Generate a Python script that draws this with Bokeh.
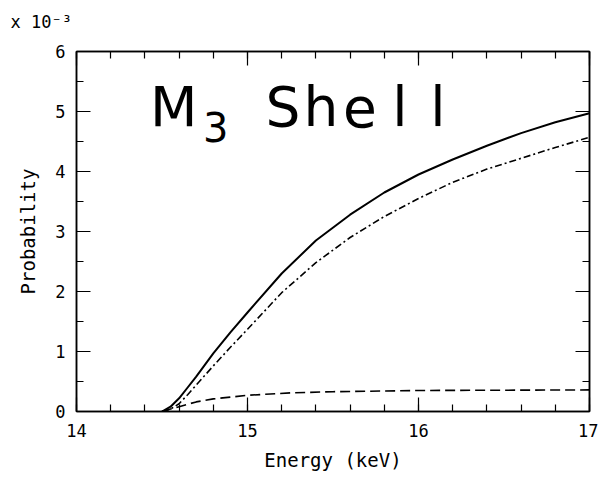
from bokeh.plotting import figure
from bokeh.models import (LinearAxis, Range1d, Label, SingleIntervalTicker, Title,
                          CustomLabelingPolicy)
from bokeh.embed import file_html
from bokeh.resources import INLINE

# ---- data (probability in units of 1e-3) ----
energy_total = [14.5, 14.55, 14.6, 14.65, 14.7, 14.8, 14.9, 15.0, 15.2, 15.4, 15.6, 15.8,
                16.0, 16.2, 16.4, 16.6, 16.8, 17.0]
prob_total = [0.0, 0.08, 0.22, 0.4, 0.58, 0.97, 1.32, 1.65, 2.3, 2.85, 3.28, 3.65,
              3.95, 4.2, 4.43, 4.64, 4.82, 4.97]

energy_dashdot = [14.5, 14.55, 14.6, 14.65, 14.7, 14.8, 14.9, 15.0, 15.2, 15.4, 15.6, 15.8,
                  16.0, 16.2, 16.4, 16.6, 16.8, 17.0]
prob_dashdot = [0.0, 0.04, 0.13, 0.28, 0.44, 0.76, 1.07, 1.37, 1.98, 2.48, 2.9, 3.25,
                3.55, 3.82, 4.04, 4.22, 4.4, 4.57]

energy_dashed = [14.5, 14.55, 14.6, 14.7, 14.8, 15.0, 15.25, 15.5, 16.0, 16.5, 17.0]
prob_dashed = [0.0, 0.04, 0.08, 0.16, 0.21, 0.27, 0.31, 0.33, 0.35, 0.355, 0.36]

x_ticks_interval = 1
y_ticks_interval = 1

FONT = "DejaVu Sans Mono"
TITLE_FONT = "DejaVu Sans"

p = figure(width=598, height=476, x_range=Range1d(14, 17), y_range=Range1d(0, 6),
           output_backend="svg", toolbar_location=None,
           min_border_left=76, min_border_right=6, min_border_top=51, min_border_bottom=65)

p.background_fill_color = "white"
p.border_fill_color = "white"
p.outline_line_color = "black"
p.outline_line_width = 1.5
p.xgrid.visible = False
p.ygrid.visible = False

no_labels = CustomLabelingPolicy(code="return new Set()")

def style_axis(ax, labels=True):
    ax.axis_line_color = "black"
    ax.axis_line_width = 1.5
    ax.major_tick_in = 14
    ax.major_tick_out = 0
    ax.minor_tick_in = 7
    ax.minor_tick_out = 0
    ax.major_tick_line_color = "black"
    ax.minor_tick_line_color = "black"
    ax.major_tick_line_width = 1.2
    ax.minor_tick_line_width = 1.2
    if labels:
        ax.major_label_text_font = FONT
        ax.major_label_text_font_size = "17px"
        ax.major_label_text_color = "black"
    else:
        ax.major_label_policy = no_labels
        ax.major_label_standoff = 0

xt = SingleIntervalTicker(interval=x_ticks_interval, num_minor_ticks=5)
yt = SingleIntervalTicker(interval=y_ticks_interval, num_minor_ticks=2)

p.xaxis.ticker = xt
p.yaxis.ticker = yt
style_axis(p.xaxis[0])
style_axis(p.yaxis[0])
p.xaxis.major_label_standoff = 12
p.yaxis.major_label_standoff = 11
p.xaxis.axis_label = "Energy (keV)"
p.yaxis.axis_label = "Probability"
for ax in (p.xaxis[0], p.yaxis[0]):
    ax.axis_label_text_font = FONT
    ax.axis_label_text_font_size = "19px"
    ax.axis_label_text_font_style = "normal"
    ax.axis_label_text_color = "black"
p.xaxis.axis_label_standoff = 9
p.yaxis.axis_label_standoff = 13

top = LinearAxis(ticker=SingleIntervalTicker(interval=x_ticks_interval, num_minor_ticks=5))
right = LinearAxis(ticker=SingleIntervalTicker(interval=y_ticks_interval, num_minor_ticks=2))
style_axis(top, labels=False)
style_axis(right, labels=False)
p.add_layout(top, "above")
p.add_layout(right, "right")

# scale factor note at top-left
p.add_layout(Title(text="x 10\u207b\u00b3", align="left", offset=-66, standoff=18,
                   text_font=FONT, text_font_size="17px", text_font_style="normal",
                   text_color="black"), "above")

# ---- curves ----
p.line(energy_total, prob_total, line_color="black", line_width=2)
p.line(energy_dashdot, prob_dashdot, line_color="black", line_width=1.6, line_dash="7 3 2 3")
p.line(energy_dashed, prob_dashed, line_color="black", line_width=1.6, line_dash="10 5")

# ---- in-plot title "M3 Shell" ----
p.add_layout(Label(x=14.43, y=5.07, text="M", text_font=TITLE_FONT, text_font_size="55px",
                   text_color="black", text_baseline="alphabetic"))
p.add_layout(Label(x=14.74, y=4.75, text="3", text_font=TITLE_FONT, text_font_size="40px",
                   text_color="black", text_baseline="alphabetic"))

shell_letters = ["S", "h", "e", "l", "l"]
shell_x = [15.208, 15.43, 15.658, 15.891, 16.113]
for ch, xx in zip(shell_letters, shell_x):
    p.add_layout(Label(x=xx, y=5.07, text=ch, text_font=TITLE_FONT, text_font_size="55px",
                       text_color="black", text_align="center", text_baseline="alphabetic"))

open("out.html", "w").write(file_html(p, INLINE))
